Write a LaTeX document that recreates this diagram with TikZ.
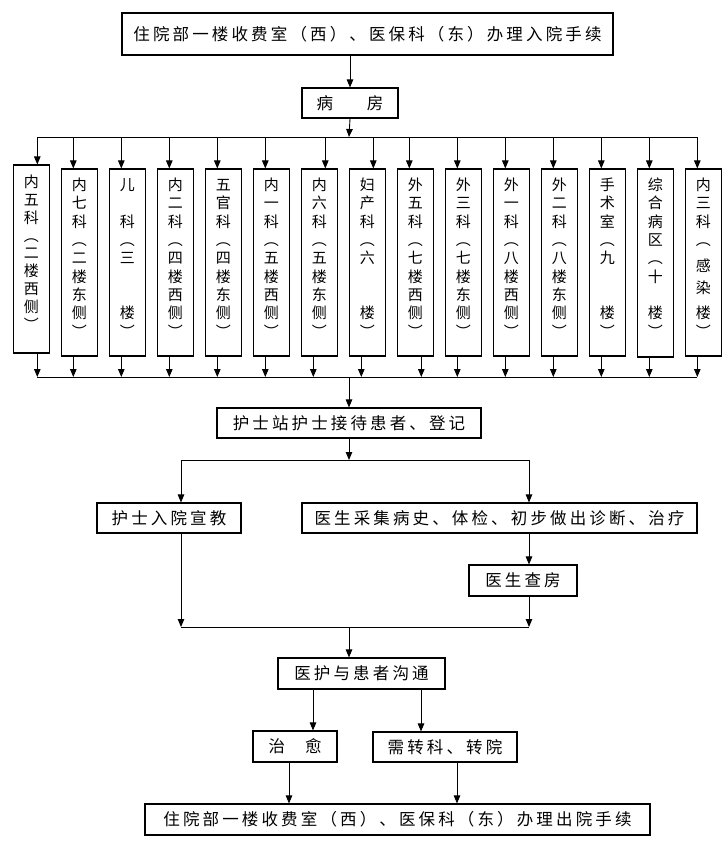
\documentclass[tikz,border=0pt]{standalone}
\usepackage{fontspec}
\newfontfamily\cjk[LetterSpace=19]{Noto Sans CJK SC}
\newfontfamily\cjkv{Noto Sans CJK SC}
\usetikzlibrary{arrows.meta}
\newcommand{\vlab}[5]{% name, x, y0, pitch, list
  \foreach \p/\c [count=\k] in {#5} {\node[vt] (#1t\k) at (#2, {#3+(\p-1)*#4}) {\c};}}
\begin{document}
\begin{tikzpicture}[x=1pt,y=-1pt,
  box/.style={draw, line width=1.1pt, inner sep=0pt, font=\cjk\fontsize{16.5}{20}\selectfont},
  dept/.style={draw, line width=1.1pt, inner sep=0pt, minimum width=36pt, minimum height=187pt},
  arr/.style={line width=0.9pt, -{Triangle[length=8pt,width=6.5pt]}},
  ln/.style={line width=0.9pt},
  vt/.style={font=\cjkv\fontsize{15}{18}\selectfont, inner sep=0pt, text height=13.4pt, text depth=2.2pt}]
\useasboundingbox (0,0) rectangle (728,852);

% main boxes
\node[box, minimum width=491pt, minimum height=42pt] (top) at (367.5,34) {住院部一楼收费室（西）、医保科（东）办理入院手续};
\node[box, minimum width=96pt, minimum height=30pt] (fang) at (350,103) {病\hspace{34pt}房};
\node[box, minimum width=264pt, minimum height=30pt] (hs) at (349,423) {护士站护士接待患者、登记};
\node[box, minimum width=144pt, minimum height=30pt] (edu) at (169,518) {护士入院宣教};
\node[box, minimum width=395pt, minimum height=30pt] (doc) at (499.5,518) {医生采集病史、体检、初步做出诊断、治疗};
\node[box, minimum width=108pt, minimum height=31pt] (ward) at (523,580.5) {医生查房};
\node[box, minimum width=167pt, minimum height=31pt] (comm) at (361.5,673.5) {医护与患者沟通};
\node[box, minimum width=84pt, minimum height=31pt] (cure) at (295,746.5) {治\hspace{20pt}愈};
\node[box, minimum width=144pt, minimum height=30pt] (trans) at (445,747) {需转科、转院};
\node[box, minimum width=505pt, minimum height=31pt] (out) at (397.5,819.5) {住院部一楼收费室（西）、医保科（东）办理出院手续};

% department boxes
\node[dept, minimum height=188pt] (d1) at (31.3,259) {};
\node[dept] (d2) at (79.3,262.5) {};
\node[dept] (d3) at (127.3,262.5) {};
\node[dept] (d4) at (175.3,262.5) {};
\node[dept] (d5) at (223.3,262.5) {};
\node[dept] (d6) at (271.3,262.5) {};
\node[dept] (d7) at (319.3,262.5) {};
\node[dept] (d8) at (367.3,262.5) {};
\node[dept] (d9) at (415.3,262.5) {};
\node[dept] (d10) at (463.3,262.5) {};
\node[dept] (d11) at (511.3,262.5) {};
\node[dept] (d12) at (559.3,262.5) {};
\node[dept] (d13) at (607.3,262.5) {};
\node[dept, minimum height=188pt] (d14) at (655.3,263) {};
\node[dept] (d15) at (703.3,262.5) {};

% vertical labels
\vlab{d1}{31.3}{182}{17.8}{1/内,2/五,3/科,4/︵,5/二,6/楼,7/西,8/侧,9/︶}
\vlab{d2}{79.3}{185}{18.3}{1/内,2/七,3/科,4/︵,5/二,6/楼,7/东,8/侧,9/︶}
\vlab{d3}{127.3}{185}{18.3}{1/儿,3/科,4/︵,5/三,8/楼,9/︶}
\vlab{d4}{175.3}{185}{18.3}{1/内,2/二,3/科,4/︵,5/四,6/楼,7/西,8/侧,9/︶}
\vlab{d5}{223.3}{185}{18.3}{1/五,2/官,3/科,4/︵,5/四,6/楼,7/东,8/侧,9/︶}
\vlab{d6}{271.3}{185}{18.3}{1/内,2/一,3/科,4/︵,5/五,6/楼,7/西,8/侧,9/︶}
\vlab{d7}{319.3}{185}{18.3}{1/内,2/六,3/科,4/︵,5/五,6/楼,7/东,8/侧,9/︶}
\vlab{d8}{367.3}{185}{18.3}{1/妇,2/产,3/科,4/︵,5/六,8/楼,9/︶}
\vlab{d9}{415.3}{185}{18.3}{1/外,2/五,3/科,4/︵,5/七,6/楼,7/西,8/侧,9/︶}
\vlab{d10}{463.3}{185}{18.3}{1/外,2/三,3/科,4/︵,5/七,6/楼,7/东,8/侧,9/︶}
\vlab{d11}{511.3}{185}{18.3}{1/外,2/一,3/科,4/︵,5/八,6/楼,7/西,8/侧,9/︶}
\vlab{d12}{559.3}{185}{18.3}{1/外,2/二,3/科,4/︵,5/八,6/楼,7/东,8/侧,9/︶}
\vlab{d13}{607.3}{185}{18.3}{1/手,2/术,3/室,4/︵,5/九,8/楼,9/︶}
\vlab{d14}{655.3}{185}{18.3}{1/综,2/合,3/病,4/区,5/︵,6/十,8/楼,9/︶}
\vlab{d15}{703.3}{185}{18.3}{1/内,2/三,3/科,4/︵,5.4/感,6.6/染,8/楼,9/︶}

% bus coordinates
\coordinate (b1) at (349,137);
\coordinate (b2) at (349,377);
\coordinate (b3) at (349,460);
\coordinate (b4) at (349,627);

% top part
\draw[arr] (fang.north |- top.south) -- (fang.north);
\draw[arr] (fang.south) -- (b1);
\draw[ln] (37.3,137) -- (697.3,137);
\foreach \n/\x in {d1/37.3,d2/73.3,d3/121.3,d4/169.3,d5/217.3,d6/265.3,d7/325.3,d8/373.3,d9/409.3,d10/457.3,d11/505.3,d12/553.3,d13/601.3,d14/649.3,d15/697.3}
  \draw[arr] (\x,137) -- (\x,0 |- \n.north);
\foreach \n/\x in {d1/37.3,d2/73.3,d3/121.3,d4/169.3,d5/217.3,d6/265.3,d7/313.3,d8/361.3,d9/421.3,d10/457.3,d11/505.3,d12/553.3,d13/601.3,d14/649.3,d15/697.3}
  \draw[arr] (\x,0 |- \n.south) -- (\x,377);
\draw[ln] (37.3,377) -- (697.3,377);
\draw[arr] (b2) -- (b2 |- hs.north);

% middle part
\draw[arr] (b3 |- hs.south) -- (b3);
\draw[ln] (181,460) -- (529,460);
\draw[arr] (181,460) -- (181,0 |- edu.north);
\draw[arr] (529,460) -- (529,0 |- doc.north);
\draw[arr] (529,0 |- doc.south) -- (529,0 |- ward.north);
\draw[arr] (181,0 |- edu.south) -- (181,627);
\draw[arr] (529,0 |- ward.south) -- (529,627);
\draw[ln] (181,627) -- (529,627);
\draw[arr] (b4) -- (b4 |- comm.north);

% bottom part
\draw[arr] (313,0 |- comm.south) -- (313,0 |- cure.north);
\draw[arr] (421,0 |- comm.south) -- (421,0 |- trans.north);
\draw[arr] (289,0 |- cure.south) -- (289,0 |- out.north);
\draw[arr] (457,0 |- trans.south) -- (457,0 |- out.north);
\end{tikzpicture}
\end{document}
